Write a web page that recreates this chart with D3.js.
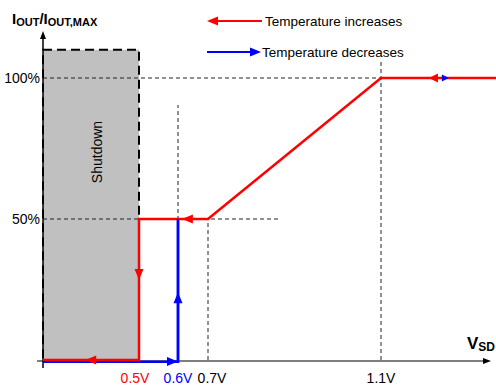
<!DOCTYPE html>
<html>
<head>
  <meta charset="utf-8">
  <script src="https://d3js.org/d3.v7.min.js"></script>
  <style>
    body { margin: 0; background: #fff; }
    text { font-family: "Liberation Sans", Arial, sans-serif; }
  </style>
</head>
<body>
<script>
  // ----- data -----
  var xBreaks = [0, 0.5, 0.6, 0.7, 1.1, 1.4];          // V, piecewise axis
  var xTicks = [0.5, 0.6, 0.7, 1.1];
  var xTickLabels = ["0.5V", "0.6V", "0.7V", "1.1V"];
  var xTickColors = ["#ff0000", "#0000ff", "#000", "#000"];
  var yTicks = [50, 100];
  var yTickLabels = ["50%", "100%"];

  // temperature increases (red) and decreases (blue), [V, %]
  var redPath = [[1.45, 100], [1.1, 100], [0.7, 50], [0.5, 50], [0.5, 0], [0, 0]];
  var bluePath = [[0, 0], [0.6, 0], [0.6, 50]];
  // arrow heads: [V, %, direction]
  var redArrows = [[1.225, 100, "left"], [0.613, 50, "left"], [0.5, 28.4, "down"], [0.22, 0, "left"]];
  var blueArrows = [[1.277, 100, "right"], [0.6, 0, "right"], [0.6, 24, "up"]];

  // dashed guide lines [[x1,y1],[x2,y2]]
  var guides = [
    [[0, 100], [1.1, 100]],
    [[0, 50], [0.866, 50]],
    [[0.6, 0], [0.6, 90.4]],
    [[0.7, 0], [0.7, 50]],
    [[1.1, 0], [1.1, 106]]
  ];
  var shutdown = { x0: 0, x1: 0.5, top: 110 };

  // ----- chart -----
  var W = 496, H = 385;
  var svg = d3.select("body").append("svg").attr("width", W).attr("height", H);

  var x = d3.scaleLinear().domain(xBreaks).range([43, 139, 178, 208, 381, 496]);
  var y = d3.scaleLinear().domain([0, 100]).range([360, 78]);

  var RED = "#ff0000", BLUE = "#0000ff";

  // shutdown zone
  svg.append("rect")
    .attr("x", x(shutdown.x0)).attr("y", y(shutdown.top))
    .attr("width", x(shutdown.x1) - x(shutdown.x0))
    .attr("height", y(0) - y(shutdown.top))
    .attr("fill", "#c0c0c0")
    .attr("stroke", "#000").attr("stroke-width", 2)
    .attr("stroke-dasharray", "9,5");

  svg.append("text")
    .attr("transform", "translate(" + 102 + "," + 152 + ") rotate(-90)")
    .attr("text-anchor", "middle")
    .style("font-size", "14px")
    .text("Shutdown");

  // guides
  svg.selectAll("line.guide").data(guides).enter().append("line")
    .attr("class", "guide")
    .attr("x1", function(d) { return x(d[0][0]); })
    .attr("y1", function(d) { return y(d[0][1]); })
    .attr("x2", function(d) { return x(d[1][0]); })
    .attr("y2", function(d) { return y(d[1][1]); })
    .attr("stroke", "#222").attr("stroke-width", 1)
    .attr("stroke-dasharray", "4,3");

  // axes
  svg.append("line").attr("x1", 43).attr("x2", 43).attr("y1", 368).attr("y2", 38)
    .attr("stroke", "#000").attr("stroke-width", 1.5);
  svg.append("path").attr("d", "M43,31 L40,39 L46,39 Z").attr("fill", "#000");
  svg.append("line").attr("x1", 37).attr("x2", 484).attr("y1", 361).attr("y2", 361)
    .attr("stroke", "#000").attr("stroke-width", 1.2);
  svg.append("path").attr("d", "M491,361 L483,358 L483,364 Z").attr("fill", "#000");

  // tick labels
  svg.selectAll("text.xt").data(xTicks).enter().append("text")
    .attr("class", "xt")
    .attr("x", function(d, i) { return x(d) + (i === 0 ? -4 : (i === 2 ? 4 : 0)); })
    .attr("y", 383)
    .attr("text-anchor", "middle")
    .attr("fill", function(d, i) { return xTickColors[i]; })
    .style("font-size", "14px")
    .text(function(d, i) { return xTickLabels[i]; });

  svg.selectAll("text.yt").data(yTicks).enter().append("text")
    .attr("class", "yt")
    .attr("x", 40).attr("y", function(d) { return y(d) + 5; })
    .attr("text-anchor", "end")
    .style("font-size", "14px")
    .text(function(d, i) { return yTickLabels[i]; });

  // curves
  var line = d3.line().x(function(d) { return x(d[0]); }).y(function(d) { return y(d[1]); });
  svg.append("path").datum(bluePath.map(function(d) { return d[1] === 0 ? [d[0], -0.6] : d; }))
    .attr("d", line).attr("fill", "none").attr("stroke", BLUE).attr("stroke-width", 2.5);
  svg.append("path").datum(redPath)
    .attr("d", line).attr("fill", "none").attr("stroke", RED).attr("stroke-width", 2.5);
  svg.append("line").attr("x1", x(0.6)).attr("x2", x(0.6))
    .attr("y1", y(-0.6)).attr("y2", y(50))
    .attr("stroke", BLUE).attr("stroke-width", 2.5);

  function head(px, py, dir, L, w) {
    L = L || 11; w = w || 4.5;
    var pts = {
      left:  [[px, py], [px + L, py - w], [px + L, py + w]],
      right: [[px, py], [px - L, py - w], [px - L, py + w]],
      up:    [[px, py], [px - w, py + L], [px + w, py + L]],
      down:  [[px, py], [px - w, py - L], [px + w, py - L]]
    }[dir];
    return "M" + pts.join("L") + "Z";
  }
  svg.selectAll("path.ba").data(blueArrows).enter().append("path")
    .attr("class", "ba")
    .attr("d", function(d) {
      var small = d[1] === 100;
      return head(x(d[0]), y(d[1]) + (d[1] === 0 ? 1.5 : 0), d[2], small ? 7 : 11, small ? 3.5 : 4.5);
    })
    .attr("fill", BLUE);
  svg.selectAll("path.ra").data(redArrows).enter().append("path")
    .attr("class", "ra")
    .attr("d", function(d) { return head(x(d[0]), y(d[1]), d[2], d[1] === 100 ? 9 : 11); })
    .attr("fill", RED);

  // legend
  svg.append("line").attr("x1", 215).attr("x2", 262).attr("y1", 21).attr("y2", 21)
    .attr("stroke", RED).attr("stroke-width", 2);
  svg.append("path").attr("d", head(207, 21, "left")).attr("fill", RED);
  svg.append("text").attr("x", 265).attr("y", 26).style("font-size", "13.5px")
    .text("Temperature increases");
  svg.append("line").attr("x1", 207).attr("x2", 252).attr("y1", 52).attr("y2", 52)
    .attr("stroke", BLUE).attr("stroke-width", 2);
  svg.append("path").attr("d", head(261, 52, "right")).attr("fill", BLUE);
  svg.append("text").attr("x", 262).attr("y", 57).style("font-size", "13.5px")
    .text("Temperature decreases");

  // axis titles
  var yt = svg.append("text").attr("x", 12).attr("y", 24)
    .style("font-weight", "bold");
  yt.append("tspan").style("font-size", "15px").text("I");
  yt.append("tspan").style("font-size", "11px").attr("dy", 2).text("OUT");
  yt.append("tspan").style("font-size", "15px").attr("dy", -2).text("/I");
  yt.append("tspan").style("font-size", "11px").attr("dy", 2).text("OUT,MAX");

  var xt = svg.append("text").attr("x", 467).attr("y", 349)
    .style("font-weight", "bold");
  xt.append("tspan").style("font-size", "17px").text("V");
  xt.append("tspan").style("font-size", "12px").attr("dy", 2).text("SD");
</script>
</body>
</html>
